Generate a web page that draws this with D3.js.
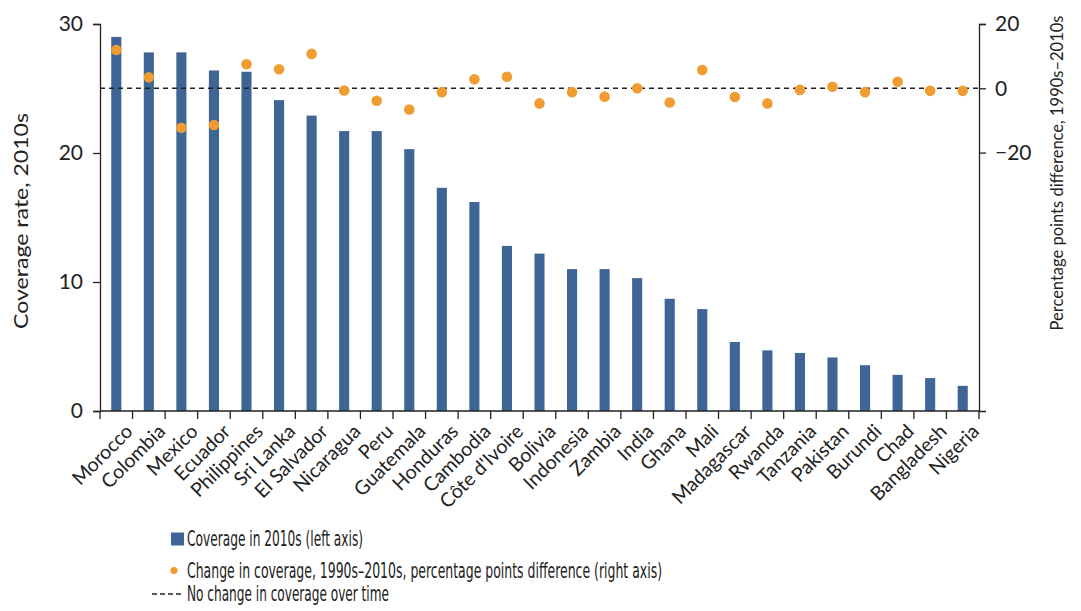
<!DOCTYPE html>
<html><head><meta charset="utf-8">
<script src="https://cdn.jsdelivr.net/npm/d3@7/dist/d3.min.js"></script>
<style>
body{margin:0;background:#fff;}
text{font-family:Lato,"Noto Sans",sans-serif;fill:#222;}
</style></head>
<body>
<svg id="c" width="1081" height="611"></svg>
<script>
const countries = ["Morocco","Colombia","Mexico","Ecuador","Philippines","Sri Lanka","El Salvador","Nicaragua","Peru","Guatemala","Honduras","Cambodia","Côte d'Ivoire","Bolivia","Indonesia","Zambia","India","Ghana","Mali","Madagascar","Rwanda","Tanzania","Pakistan","Burundi","Chad","Bangladesh","Nigeria"];
const coverage2010s = [29.0,27.8,27.8,26.4,26.3,24.1,22.9,21.7,21.7,20.3,17.3,16.2,12.8,12.2,11.0,11.0,10.3,8.7,7.9,5.35,4.7,4.5,4.15,3.55,2.8,2.55,1.95];
const change = [11.9,3.4,-12.3,-11.4,7.5,5.9,10.7,-0.7,-3.9,-6.6,-1.2,2.8,3.6,-4.7,-1.2,-2.6,0.0,-4.4,5.7,-2.7,-4.7,-0.5,0.5,-1.2,2.0,-0.8,-0.8];
const leftTicks = [0,10,20,30];
const rightTicks = [20,0,-20];
const leftTitle = "Coverage rate, 2010s";
const rightTitle = "Percentage points difference, 1990s\u20132010s";
const legendItems = ["Coverage in 2010s (left axis)","Change in coverage, 1990s\u20132010s, percentage points difference (right axis)","No change in coverage over time"];

const BAR = "#3f6496", DOT = "#ef9d33";
const svg = d3.select("#c");
const L = 100, R = 979, T = 24, B = 411;

const x = d3.scaleBand().domain(countries).range([L, R]).paddingInner(0.69).paddingOuter(0.345);
const yL = d3.scaleLinear().domain([0,30]).range([B, T]);
const yR = d3.scaleLinear().domain([-100.4,20]).range([B, T]);

// bars
svg.append("g").selectAll("rect").data(countries).join("rect")
  .attr("x", d => x(d)).attr("width", x.bandwidth())
  .attr("y", (d,i) => yL(coverage2010s[i])).attr("height", (d,i) => B - yL(coverage2010s[i]))
  .attr("fill", BAR);

// zero line
svg.append("line").attr("x1", L).attr("x2", R).attr("y1", yR(0)).attr("y2", yR(0))
  .attr("stroke", "#222").attr("stroke-width", 1.5).attr("stroke-dasharray", "5,4");

// dots
svg.append("g").selectAll("circle").data(countries).join("circle")
  .attr("cx", d => x(d) + x.bandwidth()/2).attr("cy", (d,i) => yR(change[i])).attr("r", 5.3)
  .attr("fill", DOT);

// left axis
const gl = svg.append("g").attr("transform", `translate(${L},0)`)
  .call(d3.axisLeft(yL).tickValues(leftTicks).tickSize(7).tickPadding(10));
// right axis
const gr = svg.append("g").attr("transform", `translate(${R},0)`)
  .call(d3.axisRight(yR).tickValues(rightTicks).tickSize(7).tickPadding(9)
    .tickFormat(d => d < 0 ? "\u2212" + Math.abs(d) : d));
// bottom axis (ticks at band boundaries)
const edges = d3.range(countries.length + 1).map(i => L + i * (R - L) / countries.length);
const gb = svg.append("g");
gb.append("line").attr("x1", L).attr("x2", R).attr("y1", B).attr("y2", B).attr("stroke", "#222").attr("stroke-width", 1.3);
gb.selectAll("line.t").data(edges).join("line").attr("class","t")
  .attr("x1", d => d).attr("x2", d => d).attr("y1", B).attr("y2", B + 8).attr("stroke", "#222").attr("stroke-width", 1.3);
gb.selectAll("text").data(countries).join("text")
  .attr("transform", d => `translate(${x(d) + x.bandwidth()/2 + 8},${B + 12}) rotate(-45)`)
  .attr("text-anchor", "end").attr("dy", "0.7em")
  .style("font-size", "19.5px").text(d => d);

[gl, gr].forEach(g => {
  g.select(".domain").attr("stroke", "#222").attr("stroke-width", 1.3);
  g.selectAll(".tick line").attr("stroke", "#222").attr("stroke-width", 1.3);
  g.selectAll(".tick text").style("font-size", "21px").attr("fill", "#222").style("font-family", "Lato, sans-serif");
});

// axis titles
svg.append("text").attr("transform", `translate(28,221) rotate(-90)`).attr("text-anchor", "middle")
  .attr("textLength", 216).attr("lengthAdjust", "spacingAndGlyphs")
  .style("font-size", "20px").text(leftTitle);
svg.append("text").attr("transform", `translate(1063,173) rotate(-90)`).attr("text-anchor", "middle")
  .style("font-size", "16.5px").text(rightTitle);

// legend
const lg = svg.append("g");
lg.append("rect").attr("x", 171).attr("y", 532.5).attr("width", 13).attr("height", 13).attr("fill", BAR);
lg.append("circle").attr("cx", 174).attr("cy", 570.5).attr("r", 3.6).attr("fill", DOT);
lg.append("line").attr("x1", 152).attr("x2", 182).attr("y1", 594).attr("y2", 594)
  .attr("stroke", "#222").attr("stroke-width", 1.3).attr("stroke-dasharray", "5,3");
const lw = [176, 475, 202];
const ly = [546, 578, 601];
lg.selectAll("text").data(legendItems).join("text")
  .attr("x", 187).attr("y", (d,i) => ly[i])
  .attr("textLength", (d,i) => lw[i]).attr("lengthAdjust", "spacingAndGlyphs")
  .style("font-family", "'Liberation Sans Narrow','DejaVu Sans Condensed',sans-serif")
  .style("font-size", "22px").text(d => d);
</script>
</body></html>
